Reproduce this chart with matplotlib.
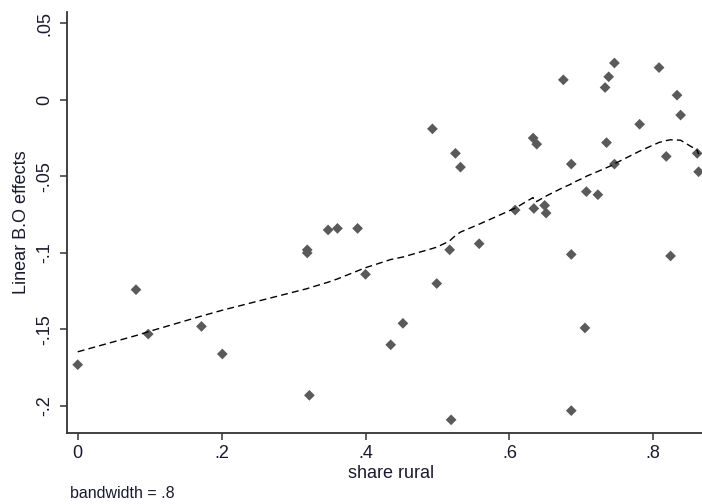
import numpy as np
import matplotlib
matplotlib.use("Agg")
import matplotlib.pyplot as plt

plt.rcParams["font.family"] = ["Liberation Sans", "DejaVu Sans"]

# share of rural population per unit
share_rural = [
    0.000, 0.081, 0.098, 0.172, 0.201, 0.319, 0.319, 0.322, 0.348, 0.361,
    0.389, 0.400, 0.435, 0.452, 0.493, 0.499, 0.517, 0.519, 0.525, 0.532,
    0.558, 0.608, 0.633, 0.638, 0.634, 0.649, 0.651, 0.675, 0.686, 0.686,
    0.686, 0.705, 0.707, 0.723, 0.733, 0.735, 0.738, 0.746, 0.746, 0.781,
    0.808, 0.818, 0.824, 0.833, 0.838, 0.861, 0.863,
]
# estimated linear B.O effect per unit
bo_effect = [
    -0.173, -0.124, -0.153, -0.148, -0.166, -0.098, -0.100, -0.193, -0.085, -0.084,
    -0.084, -0.114, -0.160, -0.146, -0.019, -0.120, -0.098, -0.209, -0.035, -0.044,
    -0.094, -0.072, -0.025, -0.029, -0.071, -0.069, -0.074, 0.013, -0.042, -0.101,
    -0.203, -0.149, -0.060, -0.062, 0.008, -0.028, 0.015, 0.024, -0.042, -0.016,
    0.021, -0.037, -0.102, 0.003, -0.010, -0.035, -0.047,
]
bandwidth = 0.8


def lowess_stata(x, y, bw):
    """Running-line lowess with tricube weights (no robustness steps)."""
    order = np.argsort(x, kind="mergesort")
    xs = np.asarray(x, float)[order]
    ys = np.asarray(y, float)[order]
    n = len(xs)
    k = int(np.floor((n * bw - 0.5) / 2.0))
    fit = np.empty(n)
    for i in range(n):
        lo = max(0, i - k)
        hi = min(n - 1, i + k)
        xx = xs[lo:hi + 1]
        yy = ys[lo:hi + 1]
        delta = 1.0001 * max(xs[hi] - xs[i], xs[i] - xs[lo])
        u = np.abs(xx - xs[i]) / delta
        w = np.clip(1 - u ** 3, 0, None) ** 3
        sw = w.sum()
        xm = (w * xx).sum() / sw
        ym = (w * yy).sum() / sw
        sxx = (w * (xx - xm) ** 2).sum()
        if sxx > 0:
            b = (w * (xx - xm) * (yy - ym)).sum() / sxx
        else:
            b = 0.0
        fit[i] = ym + b * (xs[i] - xm)
    return xs, fit


W, H = 702, 504
fig = plt.figure(figsize=(W / 100, H / 100), dpi=100)
ax = fig.add_axes([67 / W, (H - 433) / H, (W - 67) / W, (433 - 12) / H])

ax.scatter(share_rural, bo_effect, marker="D", s=30, color="#5a5a5a",
           edgecolors="none", zorder=3)

lx, ly = lowess_stata(share_rural, bo_effect, bandwidth)
ax.plot(lx, ly, color="black", lw=1.0, ls=(0, (5, 3)), zorder=4)

ax.set_xlim(-0.0149, 0.8677)
ax.set_ylim(-0.2176, 0.0573)

ax.set_xticks([0, 0.2, 0.4, 0.6, 0.8])
ax.set_xticklabels(["0", ".2", ".4", ".6", ".8"])
ax.set_yticks([-0.2, -0.15, -0.1, -0.05, 0, 0.05])
ax.set_yticklabels(["-.2", "-.15", "-.1", "-.05", "0", ".05"],
                   rotation=90, va="center")

for side in ("top", "right"):
    ax.spines[side].set_visible(False)
for side in ("left", "bottom"):
    ax.spines[side].set_color("#333333")
    ax.spines[side].set_linewidth(1.3)

ax.tick_params(axis="both", length=5, width=1.1, color="#333333",
               labelsize=13, labelcolor="#1a1a2e")
ax.tick_params(axis="x", pad=4)
ax.tick_params(axis="y", pad=5)

fig.text(391 / W, 1 - 473 / H, "share rural", ha="center", va="center",
         fontsize=13, color="#1a1a2e")
fig.text(22 / W, 1 - 222 / H, "Linear B.O effects", ha="center", va="center",
         rotation=90, fontsize=13, color="#1a1a2e")
fig.text(70 / W, 1 - 494 / H, "bandwidth = .8", ha="left", va="center",
         fontsize=11.5, color="#1a1a2e")

fig.savefig("out.png", dpi=100)
